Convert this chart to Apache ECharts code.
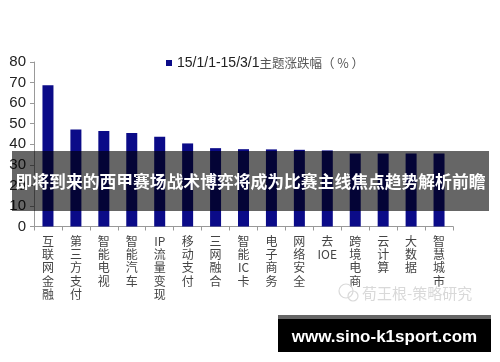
<!DOCTYPE html>
<html>
<head>
<meta charset="utf-8">
<script src="https://cdn.jsdelivr.net/npm/echarts@6/dist/echarts.min.js"></script>
<style>html,body{margin:0;padding:0;background:#fff;}#c{width:500px;height:362px;}</style>
</head>
<body>
<div id="c"></div>
<script>
const categories = ['互联网金融','第三方支付','智能电视','智能汽车','IP流量变现','移动支付','三网融合','智能IC卡','电子商务','网络安全','去IOE','跨境电商','云计算','大数据','智慧城市'];
const values = [68.7, 47.2, 46.4, 45.5, 43.6, 40.4, 38.1, 37.6, 37.5, 37.3, 37.0, 35.5, 35.5, 35.5, 35.5];
const seriesName = '15/1/1-15/3/1主题涨跌幅（%）';
const yTicks = {min: 0, max: 80, interval: 10};
const bannerText = '即将到来的西甲赛场战术博弈将成为比赛主线焦点趋势解析前瞻';
const siteText = 'www.sino-k1sport.com';
const watermarkText = '荀王根-策略研究';

function verticalLabel(s) {
  const parts = [];
  let i = 0;
  while (i < s.length) {
    let m = s.slice(i).match(/^[A-Za-z]+/);
    if (m) { parts.push(m[0]); i += m[0].length; }
    else { parts.push(s[i]); i++; }
  }
  return parts.join('\n');
}

const chart = echarts.init(document.getElementById('c'), null, {renderer: 'canvas'});
chart.setOption({
  backgroundColor: '#fff',
  animation: false,
  legend: {
    data: [seriesName],
    left: 161, top: 51,
    icon: 'rect', itemWidth: 6, itemHeight: 6, itemGap: 4,
    formatter: function () { return '{a|15/1/1-15/3/1}{b|主题涨跌幅（ % ）}'; },
    textStyle: {
      rich: {
        a: {fontFamily: 'Liberation Sans, Arial', fontSize: 14, color: '#222'},
        b: {fontFamily: 'Noto Sans CJK SC', fontSize: 12.5, color: '#555'}
      }
    }
  },
  grid: {left: 34, right: 47, top: 62, bottom: 135.5},
  xAxis: {
    type: 'category',
    data: categories,
    axisLine: {lineStyle: {color: '#999'}},
    axisTick: {show: true, length: 4, lineStyle: {color: '#999'}},
    axisLabel: {
      interval: 0, margin: 8,
      formatter: verticalLabel,
      fontFamily: 'Noto Sans CJK SC', fontSize: 12, lineHeight: 13.3, color: '#444'
    }
  },
  yAxis: {
    type: 'value',
    min: yTicks.min, max: yTicks.max, interval: yTicks.interval,
    splitLine: {show: false},
    axisLine: {show: true, lineStyle: {color: '#999'}},
    axisTick: {show: true, length: 4, lineStyle: {color: '#999'}},
    axisLabel: {fontFamily: 'Liberation Sans, Arial', fontSize: 15, color: '#222', margin: 8}
  },
  series: [{
    name: seriesName,
    type: 'bar',
    data: values,
    barWidth: 11,
    itemStyle: {color: '#0b0b88'}
  }],
  graphic: [
    {type: 'rect', z: 100, shape: {x: 12, y: 151, width: 477, height: 60}, style: {fill: 'rgba(0,0,0,0.6)'}},
    {type: 'text', z: 101, x: 250.5, y: 181.5, style: {text: bannerText, fill: '#fff', font: 'bold 16.8px "Noto Sans CJK SC"', textAlign: 'center', textVerticalAlign: 'middle'}},
    {type: 'text', z: 50, x: 362, y: 293, style: {text: watermarkText, fill: '#d9d9d9', font: '15px "Noto Sans CJK SC"', textAlign: 'left', textVerticalAlign: 'middle'}},
    {type: 'circle', z: 50, shape: {cx: 346, cy: 291, r: 7}, style: {fill: 'none', stroke: '#d9d9d9', lineWidth: 1.2}},
    {type: 'circle', z: 50, shape: {cx: 353, cy: 296, r: 5}, style: {fill: 'none', stroke: '#d9d9d9', lineWidth: 1.2}},
    {type: 'rect', z: 100, shape: {x: 278, y: 315, width: 213, height: 37}, style: {fill: '#000'}},
    {type: 'rect', z: 101, shape: {x: 278, y: 315, width: 213, height: 4}, style: {fill: '#666'}},
    {type: 'text', z: 102, x: 384.5, y: 337, style: {text: siteText, fill: '#fff', font: 'bold 17px "Liberation Sans", Arial', textAlign: 'center', textVerticalAlign: 'middle'}}
  ]
});
</script>
</body>
</html>
